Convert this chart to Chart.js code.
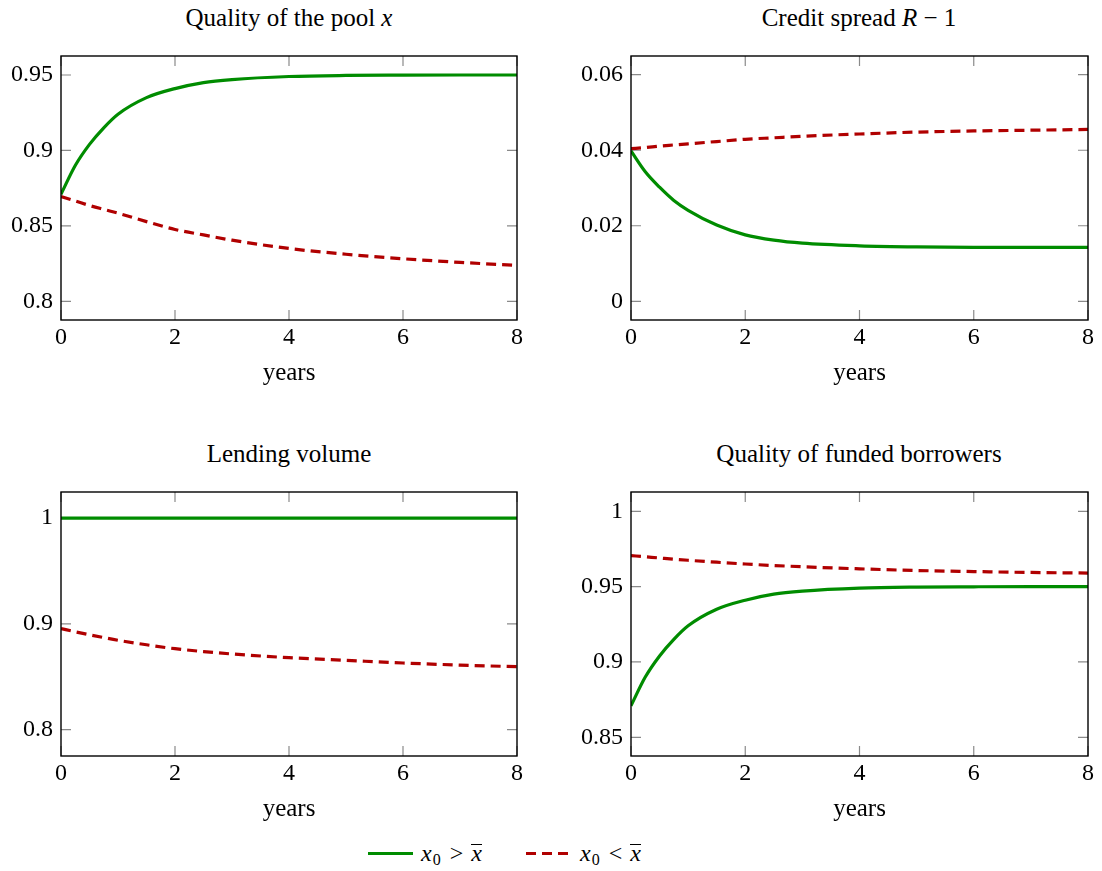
<!DOCTYPE html>
<html>
<head>
<meta charset="utf-8">
<script src="https://cdn.jsdelivr.net/npm/chart.js@4.4.0/dist/chart.umd.min.js"></script>
<style>
  body { margin: 0; background: #fff; width: 1102px; height: 871px; position: relative; overflow: hidden;
         font-family: "Liberation Serif", serif; color: #000; }
  canvas { position: absolute; }
  .ttl { position: absolute; font-size: 25px; line-height: 25px; white-space: nowrap; transform: translateX(-50%); }
  .leg { position: absolute; font-size: 24px; line-height: 24px; white-space: nowrap; top: 841px; }
  .sw { position: absolute; height: 3px; top: 852px; }
  .ov { display: inline-block; border-top: 1px solid #000; line-height: 16px; }
  .rel { margin: 0 8px 0 9px; }
  sub { font-size: 16px; vertical-align: -4px; line-height: 0; font-style: normal; margin-left: 1px; }
</style>
</head>
<body>

<div class="ttl" style="left:289px; top:5px">Quality of the pool <i>x</i></div>
<div class="ttl" style="left:859px; top:5px">Credit spread <i>R</i> &minus; 1</div>
<div class="ttl" style="left:289px; top:441px">Lending volume</div>
<div class="ttl" style="left:859px; top:441px">Quality of funded borrowers</div>

<canvas id="pool" width="551" height="400" style="left:0; top:0"></canvas>
<canvas id="spread" width="551" height="400" style="left:551px; top:0"></canvas>
<canvas id="volume" width="551" height="400" style="left:0; top:436px"></canvas>
<canvas id="funded" width="551" height="400" style="left:551px; top:436px"></canvas>

<div class="sw" style="left:368px; width:45px; background:#008c00"></div>
<div class="leg" style="left:421px"><i>x</i><sub>0</sub><span class="rel">&gt;</span><span class="ov"><i>x</i></span></div>
<div class="sw" style="left:526px; width:42px; background:repeating-linear-gradient(to right, #b00000 0 10px, transparent 10px 16px)"></div>
<div class="leg" style="left:580px"><i>x</i><sub>0</sub><span class="rel">&lt;</span><span class="ov"><i>x</i></span></div>

<script>
// time axis (years) shared by every series
const years = [0, 0.25, 0.5, 0.75, 1, 1.5, 2, 2.5, 3, 4, 5, 6, 7, 8];
const xTicks = [0, 2, 4, 6, 8];

// Quality of the pool x
const poolHigh = [0.871, 0.890, 0.904, 0.915, 0.924, 0.935, 0.941, 0.945, 0.947, 0.949, 0.9497, 0.9499, 0.950, 0.950];
const poolLow  = [0.8694, 0.8665, 0.8635, 0.8609, 0.8584, 0.8528, 0.8476, 0.8440, 0.8405, 0.8350, 0.8312, 0.8282, 0.8258, 0.8238];
const poolTicks = [0.8, 0.85, 0.9, 0.95];

// Credit spread R - 1
const spreadHigh = [0.0398, 0.0343, 0.0302, 0.0267, 0.0241, 0.0202, 0.0176, 0.0162, 0.0154, 0.0147, 0.0144, 0.0143, 0.0143, 0.0143];
const spreadLow  = [0.0404, 0.0407, 0.0411, 0.0414, 0.0417, 0.0423, 0.0429, 0.0433, 0.0437, 0.0443, 0.0448, 0.0451, 0.0453, 0.0455];
const spreadTicks = [0, 0.02, 0.04, 0.06];

// Lending volume
const volumeHigh = [1, 1, 1, 1, 1, 1, 1, 1, 1, 1, 1, 1, 1, 1];
const volumeLow  = [0.8955, 0.8925, 0.8897, 0.8870, 0.8845, 0.8802, 0.8765, 0.8738, 0.8715, 0.8680, 0.8655, 0.8630, 0.8610, 0.8595];
const volumeTicks = [0.8, 0.9, 1];

// Quality of funded borrowers
const fundedHigh = [0.871, 0.890, 0.904, 0.915, 0.924, 0.935, 0.941, 0.945, 0.947, 0.949, 0.9497, 0.9499, 0.950, 0.950];
const fundedLow  = [0.9706, 0.9698, 0.9690, 0.9682, 0.9675, 0.9662, 0.9650, 0.9640, 0.9632, 0.9618, 0.9607, 0.9600, 0.9594, 0.9590];
const fundedTicks = [0.85, 0.9, 0.95, 1];

const GREEN = '#008c00';
const RED = '#b00000';
const TICK_LEN = 10;

Chart.defaults.font.family = '"Liberation Serif", serif';
Chart.defaults.font.size = 24;
Chart.defaults.color = '#000';

// inward ticks on all four sides plus the black frame
const frameTicks = {
    id: 'frameTicks',
    beforeDatasetsDraw(chart) {
        const {ctx, chartArea: a, scales: {x, y}} = chart;
        ctx.save();
        ctx.strokeStyle = '#8a8a8a';
        ctx.lineWidth = 1.2;
        ctx.beginPath();
        x.ticks.forEach(t => {
            const px = x.getPixelForValue(t.value);
            ctx.moveTo(px, a.bottom); ctx.lineTo(px, a.bottom - TICK_LEN);
            ctx.moveTo(px, a.top); ctx.lineTo(px, a.top + TICK_LEN);
        });
        y.ticks.forEach(t => {
            const py = y.getPixelForValue(t.value);
            ctx.moveTo(a.left, py); ctx.lineTo(a.left + TICK_LEN, py);
            ctx.moveTo(a.right, py); ctx.lineTo(a.right - TICK_LEN, py);
        });
        ctx.stroke();
        ctx.restore();
    },
    afterDatasetsDraw(chart) {
        const {ctx, chartArea: a} = chart;
        ctx.save();
        ctx.strokeStyle = '#000';
        ctx.lineWidth = 1.4;
        ctx.strokeRect(a.left, a.top, a.width, a.height);
        ctx.restore();
    }
};

function toPoints(values) {
    return years.map((t, i) => ({x: t, y: values[i]}));
}

function makePanel(id, high, low, yMin, yMax, yTicks, yAxisWidth, rightPad) {
    const ctx = document.getElementById(id).getContext('2d');
    return new Chart(ctx, {
        type: 'line',
        data: {
            datasets: [
                {
                    label: 'x0 > x̄',
                    data: toPoints(high),
                    borderColor: GREEN,
                    borderWidth: 3.2,
                    pointRadius: 0,
                    cubicInterpolationMode: 'monotone'
                },
                {
                    label: 'x0 < x̄',
                    data: toPoints(low),
                    borderColor: RED,
                    borderWidth: 3.2,
                    borderDash: [10, 6],
                    pointRadius: 0,
                    cubicInterpolationMode: 'monotone'
                }
            ]
        },
        options: {
            responsive: false,
            animation: false,
            events: [],
            layout: { padding: { top: 56, right: rightPad, left: 0, bottom: 0 } },
            plugins: { legend: { display: false }, title: { display: false }, tooltip: { enabled: false } },
            scales: {
                x: {
                    type: 'linear',
                    min: 0,
                    max: 8,
                    grid: { display: false, drawTicks: false },
                    border: { display: false },
                    afterBuildTicks: s => { s.ticks = xTicks.map(v => ({value: v})); },
                    afterFit: s => { s.height = 80; },
                    ticks: { padding: 3, maxRotation: 0, callback: v => String(v) },
                    title: { display: true, text: 'years', font: { size: 25 }, padding: { top: 4, bottom: 12 } }
                },
                y: {
                    type: 'linear',
                    min: yMin,
                    max: yMax,
                    grid: { display: false, drawTicks: false },
                    border: { display: false },
                    afterBuildTicks: s => { s.ticks = yTicks.map(v => ({value: v})); },
                    afterFit: s => { s.width = yAxisWidth; },
                    ticks: { padding: 8, callback: v => String(v) }
                }
            }
        },
        plugins: [frameTicks]
    });
}

makePanel('pool', poolHigh, poolLow, 0.7876, 0.9626, poolTicks, 61, 34);
makePanel('spread', spreadHigh, spreadLow, -0.00495, 0.06495, spreadTicks, 80, 14);
makePanel('volume', volumeHigh, volumeLow, 0.7751, 1.0246, volumeTicks, 61, 34);
makePanel('funded', fundedHigh, fundedLow, 0.8376, 1.0128, fundedTicks, 80, 14);
</script>
</body>
</html>
